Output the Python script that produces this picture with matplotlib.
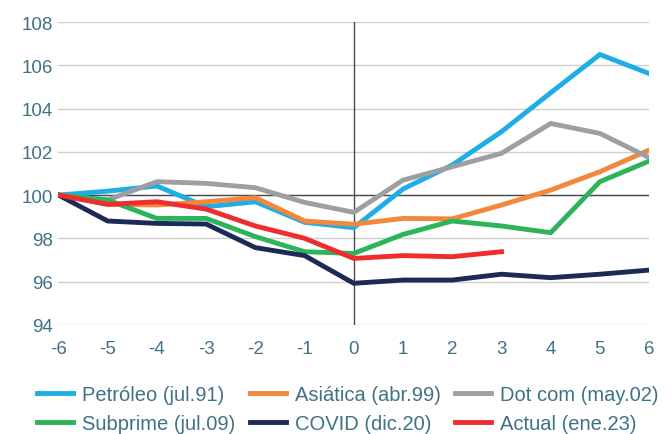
import matplotlib
matplotlib.use("Agg")
import matplotlib.pyplot as plt

x = [-6, -5, -4, -3, -2, -1, 0, 1, 2, 3, 4, 5, 6]
x_actual = [-6, -5, -4, -3, -2, -1, 0, 1, 2, 3]

petroleo = [100, 100.18, 100.42, 99.46, 99.69, 98.74, 98.49, 100.28, 101.39, 102.93, 104.73, 106.5, 105.62]
asiatica = [100, 99.57, 99.54, 99.69, 99.88, 98.8, 98.65, 98.92, 98.9, 99.54, 100.23, 101.08, 102.08]
dotcom = [100, 99.77, 100.62, 100.54, 100.34, 99.66, 99.2, 100.69, 101.31, 101.93, 103.31, 102.85, 101.73]
subprime = [100, 99.77, 98.92, 98.92, 98.08, 97.38, 97.3, 98.18, 98.8, 98.57, 98.26, 100.62, 101.57]
covid = [100, 98.8, 98.69, 98.66, 97.57, 97.2, 95.92, 96.07, 96.07, 96.34, 96.18, 96.34, 96.53]
actual = [100, 99.57, 99.69, 99.35, 98.57, 98.0, 97.07, 97.2, 97.15, 97.38]

labels = ["Petróleo (jul.91)", "Asiática (abr.99)", "Dot com (may.02)",
          "Subprime (jul.09)", "COVID (dic.20)", "Actual (ene.23)"]
yticks = [94, 96, 98, 100, 102, 104, 106, 108]

colors = ["#1eaee6", "#f3873a", "#9d9fa0", "#2cb45a", "#1c2a57", "#ee2e2e"]
tick_color = "#3f7284"

plt.rcParams['font.family'] = ['Liberation Sans', 'DejaVu Sans']

fig = plt.figure(figsize=(6.72, 4.35), dpi=100)
ax = fig.add_axes([0.087, 0.251, 0.879, 0.696])

for v in yticks:
    ax.axhline(v, color="#cfcfcf", lw=1.0, zorder=0)
ax.axhline(100, color="#4a4a4a", lw=1.0, zorder=1)
ax.axvline(0, color="#4a4a4a", lw=1.0, zorder=1)

series = [(x, petroleo), (x, asiatica), (x, dotcom), (x, subprime), (x, covid), (x_actual, actual)]
order = [2, 0, 1, 3, 4, 5]
handles = [None] * 6
for i in order:
    xs, ys = series[i]
    h, = ax.plot(xs, ys, color=colors[i], lw=3.5, solid_joinstyle='miter', zorder=3 + i)
    handles[i] = h

ax.set_xlim(-6, 6)
ax.set_ylim(94, 108)
ax.set_xticks(x)
ax.set_xticklabels([str(v) for v in x])
ax.set_yticks(yticks)
ax.tick_params(axis='both', length=0, labelsize=13.5, colors=tick_color)
ax.tick_params(axis='y', pad=4)
ax.tick_params(axis='x', pad=11)
for s in ax.spines.values():
    s.set_visible(False)

leg_order = [0, 3, 1, 4, 2, 5]
leg = fig.legend([handles[i] for i in leg_order], [labels[i] for i in leg_order],
                 loc='lower left', bbox_to_anchor=(0.028, -0.04),
                 ncol=3, frameon=False, fontsize=14.5, handlelength=1.8,
                 handletextpad=0.45, columnspacing=0.7, labelspacing=0.5,
                 labelcolor=tick_color)

fig.savefig("out.png", dpi=100)
